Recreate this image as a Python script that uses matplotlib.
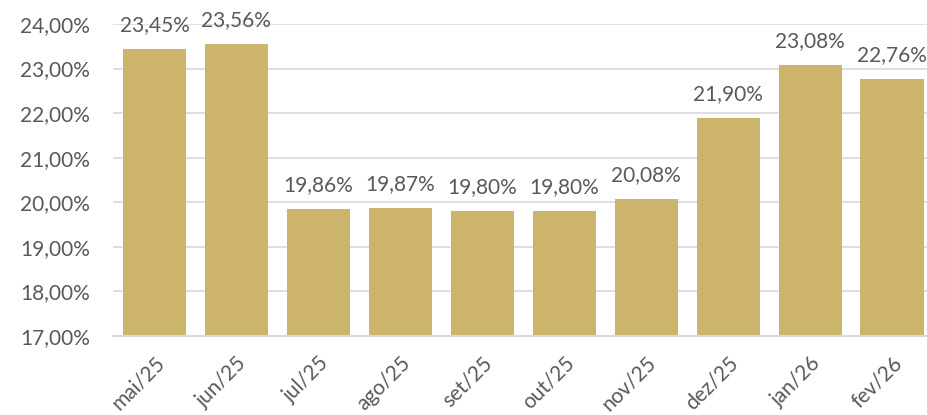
import matplotlib.pyplot as plt

meses = ["mai/25", "jun/25", "jul/25", "ago/25", "set/25", "out/25",
         "nov/25", "dez/25", "jan/26", "fev/26"]
taxas = [23.45, 23.56, 19.86, 19.87, 19.80, 19.80, 20.08, 21.90, 23.08, 22.76]
yticks = [17, 18, 19, 20, 21, 22, 23, 24]

cor_barra = "#CDB46C"
cor_texto = "#595959"

plt.rcParams['font.family'] = ['Lato', 'DejaVu Sans']

fig = plt.figure(figsize=(9.28, 4.15), dpi=100)
ax = fig.add_axes([113.5 / 928, 1 - 336 / 415, 819.5 / 928, 312 / 415])

x = list(range(len(meses)))
barras = ax.bar(x, taxas, width=0.77, color=cor_barra, zorder=2)

def fmt(v):
    return f"{v:.2f}%".replace(".", ",")

for xi, v in zip(x, taxas):
    ax.annotate(fmt(v), (xi, v), xytext=(0, 10), textcoords="offset points",
                ha="center", va="bottom", fontsize=15, color=cor_texto)

ax.set_xlim(-0.5, len(meses) - 0.5)
ax.set_ylim(17, 24)
ax.set_yticks(yticks)
ax.set_yticklabels([fmt(v) for v in yticks], fontsize=15, color=cor_texto)
ax.set_xticks(x)
ax.set_xticklabels(meses, rotation=45, ha="right", rotation_mode="anchor",
                   fontsize=15, color=cor_texto)
ax.tick_params(axis="both", length=0)
ax.tick_params(axis="x", pad=12)
ax.tick_params(axis="y", pad=17)

ax.grid(axis="y", color="#D9D9D9", linewidth=1.2, zorder=0)
for s in ["top", "right", "left"]:
    ax.spines[s].set_visible(False)
ax.spines["bottom"].set_color("#D9D9D9")
ax.spines["bottom"].set_linewidth(1.5)

fig.savefig("out.png", dpi=100)
